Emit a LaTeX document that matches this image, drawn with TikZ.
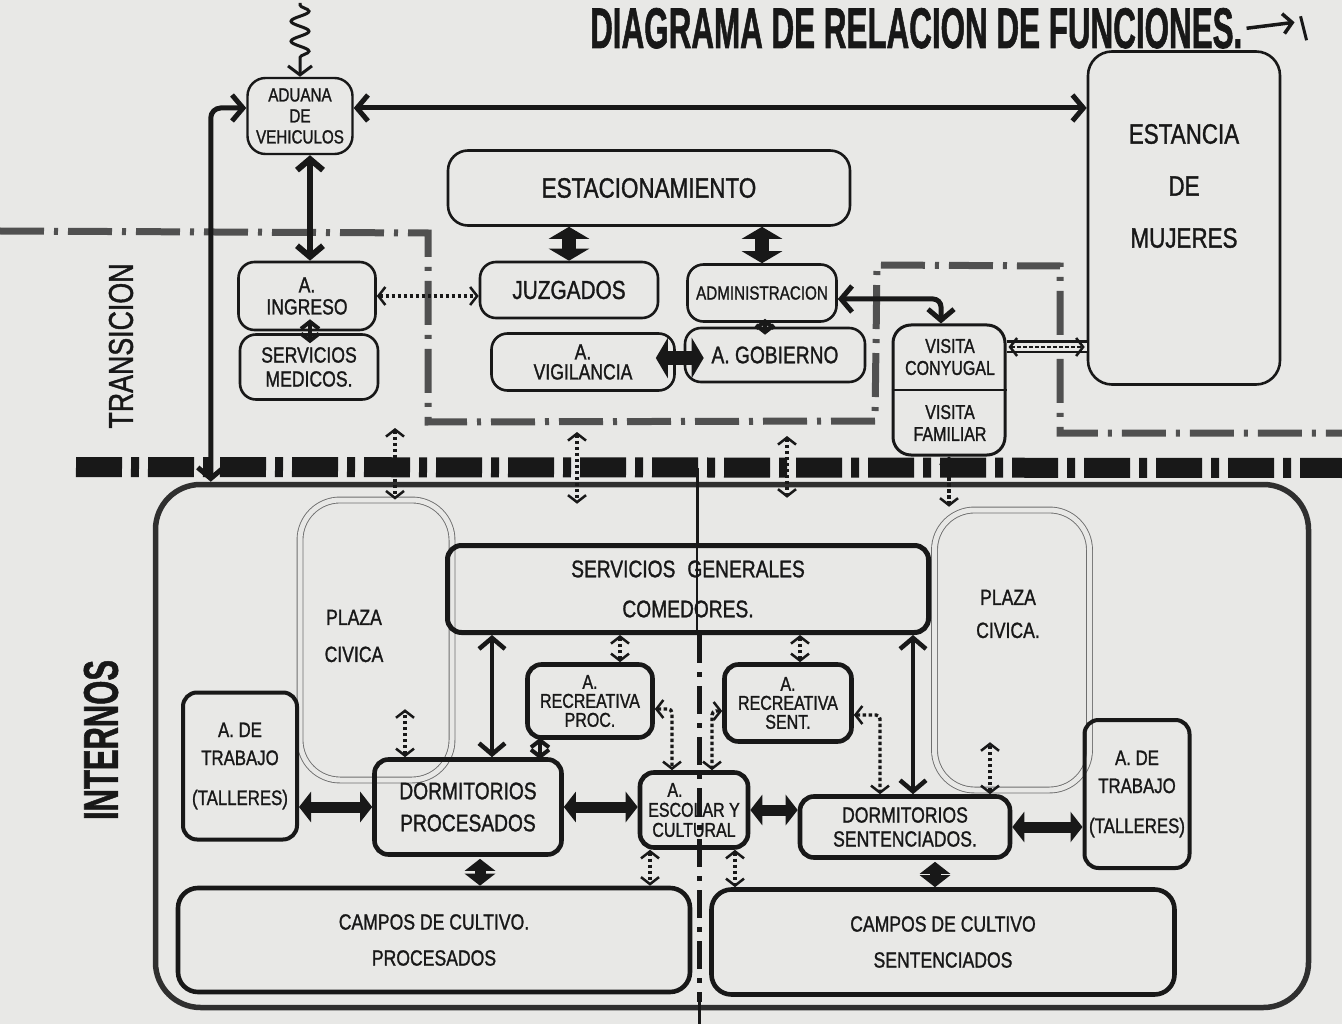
\documentclass[tikz,border=0pt]{standalone}
\usepackage{fontspec}
\usepackage{graphicx}
\setmainfont{Liberation Sans}
\newfontfamily\hand{Liberation Sans}[FakeStretch=0.8,FakeBold=1.2]
\usetikzlibrary{arrows.meta,decorations.pathmorphing,calc}
\definecolor{paper}{RGB}{232,232,230}
\definecolor{ink}{RGB}{24,24,24}
\definecolor{bound}{RGB}{80,80,80}
\definecolor{plazaln}{RGB}{110,110,110}
\newcommand\hsz[2]{\hand\fontsize{#1}{#2}\selectfont}
\tikzset{
 box/.style={draw=ink, line width=2.6pt, rounded corners=16pt, align=center, inner sep=2pt, text=ink, font=\hsz{24}{26}},
 ibox/.style={box, line width=4.6pt, rounded corners=14pt},
 plazabox/.style={draw=plazaln, line width=0.9pt, double=paper, double distance=5pt, rounded corners=40pt},
 txt/.style={align=center, text=ink, inner sep=0pt, font=\hsz{24}{26}},
 fatarr/.style={draw=ink, line width=14pt, arrows={Triangle[width=40pt,length=12pt]-Triangle[width=40pt,length=12pt]}},
 fatarrb/.style={draw=ink, line width=11pt, arrows={Triangle[width=30pt,length=12pt]-Triangle[width=30pt,length=12pt]}},
 medarr/.style={draw=ink, line width=5pt, arrows={Straight Barb[width=26pt,length=11pt]-Straight Barb[width=26pt,length=11pt]}},
 smallarr/.style={draw=ink, line width=4pt, arrows={Straight Barb[width=18pt,length=7pt]-Straight Barb[width=18pt,length=7pt]}},
 dotarr/.style={draw=ink, line width=3.4pt, dash pattern=on 3.5pt off 2.5pt, arrows={Straight Barb[width=18pt,length=7pt,line width=2.5pt]-Straight Barb[width=18pt,length=7pt,line width=2.5pt]}},
 boundln/.style={draw=bound, line width=7pt, dash pattern=on 44pt off 10pt on 4pt off 10pt},
 bandln/.style={draw=ink, line width=20pt, dash pattern=on 46pt off 9pt on 8pt off 9pt},
 midln/.style={draw=ink, line width=5pt, dash pattern=on 28pt off 9pt on 5pt off 9pt},
}
\begin{document}
\begin{tikzpicture}[x=1pt,y=-1pt]
\fill[paper] (0,0) rectangle (1342,1024);
\useasboundingbox (0,0) rectangle (1342,1024);

% title
\node[anchor=base west, inner sep=0pt, text=ink] (title) at (590,48)
  {\resizebox{652pt}{40pt}{\bfseries\hand DIAGRAMA DE RELACION DE FUNCIONES.}};
\draw[ink, line width=3.5pt, -{Straight Barb[width=20pt,length=9pt]}] ($(title.east)+(4,0)$) -- ++(48,-6);
\draw[ink, line width=3pt] ($(title.east)+(58,-12)$) -- ++(6,24);

% side labels
\node[rotate=90, inner sep=0pt, text=ink] (lbltr) at (121,346) {\resizebox{165pt}{24pt}{\hand TRANSICION}};
\node[rotate=90, inner sep=0pt, text=ink] (lblin) at (101,740) {\resizebox{160pt}{34pt}{\bfseries\hand INTERNOS}};

% zone boundaries
\draw[boundln] (0,231) -- (428,233) -- (428,422) -- (875,421) -- (877,265) -- (1060,266) -- (1060,433) -- (1342,433);
\draw[bandln] (76,467) -- (1342,468);

% ---------- transition zone ----------
\node[box, line width=2.4pt, rounded corners=18pt, minimum width=105pt, minimum height=76pt, font=\hsz{19}{21}] (aduana) at (300,116) {ADUANA\\DE\\VEHICULOS};
\node[box, minimum width=192pt, minimum height=333pt, rounded corners=24pt] (estancia) at (1184,218) {};
\node[txt, font=\hsz{28}{30}] (estanciat) at (1184,186) {ESTANCIA\\[22pt]DE\\[22pt]MUJERES};
\node[box, minimum width=402pt, minimum height=75pt, rounded corners=20pt, font=\hsz{28}{30}] (estac) at (649,188) {ESTACIONAMIENTO};
\node[box, minimum width=137pt, minimum height=68pt, font=\hsz{22}{22}] (ingreso) at (307,296) {A.\\INGRESO};
\node[box, minimum width=138pt, minimum height=65pt, font=\hsz{22}{24}] (medicos) at (309,367) {SERVICIOS\\MEDICOS.};
\node[box, minimum width=178pt, minimum height=56pt, font=\hsz{26}{28}] (juzg) at (569,290) {JUZGADOS};
\node[box, minimum width=149pt, minimum height=57pt, font=\hsz{19}{21}] (admin) at (762,293) {ADMINISTRACION};
\node[box, minimum width=183pt, minimum height=57pt, font=\hsz{22}{20}] (vigil) at (583,362) {A.\\VIGILANCIA};
\node[box, minimum width=180pt, minimum height=54pt, font=\hsz{24}{26}] (gob) at (775,355) {A. GOBIERNO};
\node[box, line width=3pt, minimum width=112pt, minimum height=130pt, rounded corners=18pt] (visita) at (949,390) {};
\draw[ink, line width=2.6pt] (visita.west) -- (visita.east);
\node[txt, font=\hsz{20}{22}] (vconj) at (950,357) {VISITA\\CONYUGAL};
\node[txt, font=\hsz{20}{22}] (vfam) at (950,423) {VISITA\\FAMILIAR};

% ---------- internal zone ----------
\node[draw=ink!90, line width=5.5pt, rounded corners=45pt, minimum width=1153pt, minimum height=523pt] (internos) at (732,746) {};
\node[plazabox, minimum width=152pt, minimum height=280pt] (plazaL) at (376,640) {};
\node[txt, font=\hsz{22}{37}] (plazaLt) at (354,636) {PLAZA\\CIVICA};
\node[plazabox, minimum width=155pt, minimum height=280pt] (plazaR) at (1012,650) {};
\node[txt, font=\hsz{22}{33}] (plazaRt) at (1008,614) {PLAZA\\CIVICA.};

\node[ibox, line width=5pt, minimum width=481pt, minimum height=87pt, font=\hsz{24}{26}] (sg) at (688,589) {SERVICIOS\enspace GENERALES\\[14pt]COMEDORES.};
\node[ibox, line width=4pt, minimum width=114pt, minimum height=147pt, font=\hsz{21}{28}] (trabL) at (240,766) {A. DE\\TRABAJO\\[12pt](TALLERES)};
\node[ibox, line width=4pt, minimum width=105pt, minimum height=148pt, font=\hsz{21}{28}] (trabR) at (1137,794) {A. DE\\TRABAJO\\[12pt](TALLERES)};
\node[ibox, minimum width=125pt, minimum height=73pt, font=\hsz{20}{19}] (recP) at (590,701) {A.\\RECREATIVA\\PROC.};
\node[ibox, minimum width=127pt, minimum height=77pt, font=\hsz{20}{19}] (recS) at (788,703) {A.\\RECREATIVA\\SENT.};
\node[ibox, minimum width=187pt, minimum height=95pt, font=\hsz{24}{32}] (dormP) at (468,807) {DORMITORIOS\\PROCESADOS};
\node[ibox, minimum width=108pt, minimum height=75pt, font=\hsz{20}{20}] (esc) at (694,810) {A.\hspace*{38pt}\\ESCOLAR Y\\CULTURAL};
\node[ibox, minimum width=210pt, minimum height=61pt, font=\hsz{22}{24}] (dormS) at (905,827) {DORMITORIOS\\SENTENCIADOS.};
\node[ibox, minimum width=512pt, minimum height=104pt, rounded corners=20pt, font=\hsz{22}{36}] (campP) at (434,940) {CAMPOS DE CULTIVO.\\PROCESADOS};
\node[ibox, minimum width=463pt, minimum height=105pt, rounded corners=20pt, font=\hsz{22}{36}] (campS) at (943,942) {CAMPOS DE CULTIVO\\SENTENCIADOS};

% connectors, transition zone
\draw[ink, line width=3pt, decorate, decoration={snake, amplitude=9pt, segment length=20pt, pre length=2pt, post length=14pt}, -{Straight Barb[width=24pt,length=9pt]}] (300,3) -- (aduana.north);
\draw[medarr] ($(aduana.east)+(0,-8)$) -- ($(aduana.east -| estancia.west)+(0,-8)$);
\draw[medarr, rounded corners=10pt] ($(aduana.west)+(0,-8)$) -| ($(internos.north west)+(58,0)$);
\draw[medarr, line width=6pt] ($(aduana.south)+(10,0)$) -- ($(aduana.south |- ingreso.north)+(10,0)$);
\draw[smallarr] ($(ingreso.south)+(3,-12)$) -- ($(ingreso.south |- medicos.north)+(3,10)$);
\draw[dotarr] (ingreso.east) -- (ingreso.east -| juzg.west);
\draw[fatarr] (juzg.north |- estac.south) -- (juzg.north);
\draw[fatarr] (admin.north |- estac.south) -- (admin.north);
\draw[smallarr] ($(admin.south)+(3,-4)$) -- ($(admin.south |- gob.north)+(3,8)$);
\draw[fatarr] ($(vigil.east)+(-20,-4)$) -- ($(gob.west)+(20,3)$);
\draw[medarr, rounded corners=8pt] ($(admin.east)+(0,6)$) -| ($(visita.north)+(-8,0)$);
\draw[ink, line width=2.5pt, double=paper, double distance=8pt] ($(visita.east)+(0,-43)$) -- ($(visita.east -| estancia.west)+(0,-43)$);
\draw[dotarr, line width=2pt] ($(visita.east)+(2,-43)$) -- ($(visita.east -| estancia.west)+(-2,-43)$);

% centre axis
\draw[ink, line width=3pt] ($(sg.north)+(9,0)$) -- ++(0,-75);
\draw[ink, line width=2.5pt] ($(sg.north)+(9,0)$) -- ($(sg.south)+(9,0)$);
\draw[midln] ($(sg.south)+(11,0)$) -- ($(sg.south |- internos.south)+(11,-8)$);
\draw[ink, line width=3pt] ($(sg.south |- internos.south)+(11,-8)$) -- ++(0,40);

% crossings of the band
\coordinate (c1) at (395,428);
\coordinate (c2) at (577,432);
\coordinate (c3) at (787,436);
\draw[dotarr] (c1) -- (c1 |- plazaL.north);
\draw[dotarr] (c2) -- ($(c2 |- internos.north)+(0,22)$);
\draw[dotarr] (c3) -- ($(c3 |- internos.north)+(0,16)$);
\draw[dotarr] (visita.south) -- ($(visita.south |- internos.north)+(0,25)$);

% internal connectors
\draw[fatarrb] (dormP.west) -- (dormP.west -| trabL.east);
\draw[fatarrb] (dormP.east) -- (dormP.east -| esc.west);
\draw[fatarrb] (esc.east) -- (esc.east -| dormS.west);
\draw[fatarrb] (dormS.east) -- (dormS.east -| trabR.west);
\draw[fatarrb] ($(dormP.south)+(12,2)$) -- ($(dormP.south |- campP.north)+(12,0)$);
\draw[fatarrb] ($(dormS.south)+(30,2)$) -- ($(dormS.south |- campS.north)+(30,0)$);
\draw[medarr, line width=4.5pt] ($(dormP.north)+(24,0)$) -- ($(dormP.north |- sg.south)+(24,0)$);
\draw[medarr, line width=4.5pt] ($(dormS.north)+(8,0)$) -- ($(dormS.north |- sg.south)+(8,0)$);
\draw[dotarr] ($(recP.north)+(30,0)$) -- ($(recP.north |- sg.south)+(30,0)$);
\draw[dotarr] ($(recS.north)+(12,0)$) -- ($(recS.north |- sg.south)+(12,0)$);
\draw[dotarr] ($(dormP.north)+(-63,0)$) -- ++(0,-48);
\draw[dotarr] ($(dormS.north)+(85,0)$) -- ++(0,-52);
\draw[smallarr] ($(dormP.north)+(72,2)$) -- ($(dormP.north |- recP.south)+(72,-2)$);
\draw[dotarr, rounded corners=4pt] ($(recP.east)+(0,8)$) -| ($(esc.north)+(-22,0)$);
\draw[dotarr, rounded corners=4pt] ($(recS.west)+(0,8)$) -| ($(esc.north)+(18,0)$);
\draw[dotarr, rounded corners=4pt] ($(recS.east)+(0,12)$) -| ($(dormS.north)+(-25,0)$);
\draw[dotarr] ($(esc.south)+(-44,0)$) -- ($(esc.south |- campP.north)+(-44,0)$);
\draw[dotarr] ($(esc.south)+(41,0)$) -- ($(esc.south |- campS.north)+(41,0)$);
\end{tikzpicture}
\end{document}
